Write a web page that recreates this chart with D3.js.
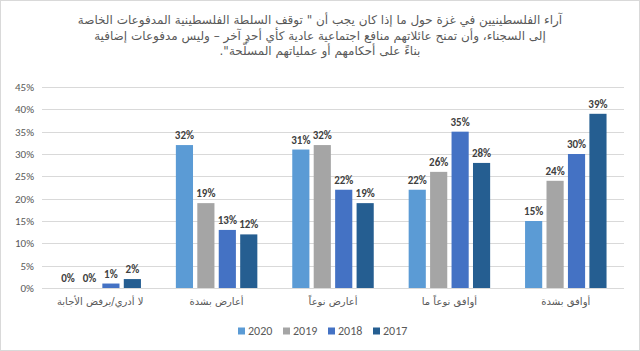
<!DOCTYPE html>
<html lang="ar">
<head>
<meta charset="UTF-8">
<title>chart</title>
<style>
  body { margin: 0; background: #fff; }
  svg { display: block; }
</style>
</head>
<body>
<script src="https://cdn.jsdelivr.net/npm/d3@7"></script>
<script>
var width = 640, height = 351;

var categories = ["لا أدري/يرفض الأجابة", "أعارض بشدة", "أعارض نوعاً", "أوافق نوعاً ما", "أوافق بشدة"];
var years = ["2020", "2019", "2018", "2017"];
var v2020 = [0, 32, 31, 22, 15];
var v2019 = [0, 19, 32, 26, 24];
var v2018 = [1, 13, 22, 35, 30];
var v2017 = [2, 12, 19, 28, 39];
var yTicks = [0, 5, 10, 15, 20, 25, 30, 35, 40, 45];
var colors = ["#5B9BD5", "#A5A5A5", "#4472C4", "#255E91"];
var titleLines = [
  'آراء الفلسطينيين في غزة حول ما إذا كان يجب أن " توقف السلطة الفلسطينية المدفوعات الخاصة',
  'إلى السجناء، وأن تمنح عائلاتهم منافع اجتماعية عادية كأي أحدٍ آخر – وليس مدفوعات إضافية',
  'بناءً على أحكامهم أو عملياتهم المسلّحة".'
];

var series = [v2020, v2019, v2018, v2017];
var rows = categories.map(function(c, i) {
  return { cat: c, vals: years.map(function(y, j) { return { year: y, j: j, v: series[j][i] }; }) };
});

var margin = { left: 42, right: 16, top: 87, bottom: 63 };

var svg = d3.select("body").append("svg")
  .attr("width", width).attr("height", height);

svg.append("rect")
  .attr("x", 0.5).attr("y", 0.5)
  .attr("width", width - 1).attr("height", height - 1)
  .attr("fill", "#fff").attr("stroke", "#d9d9d9");

var x0 = d3.scaleBand().domain(categories)
  .range([margin.left, width - margin.right])
  .paddingInner(0.3).paddingOuter(0.15);
var x1 = d3.scaleBand().domain(years)
  .range([0, x0.bandwidth()]).paddingInner(0.2);
var y = d3.scaleLinear().domain([0, 45])
  .range([height - margin.bottom, margin.top]);

// gridlines
svg.append("g")
  .selectAll("line").data(yTicks).enter().append("line")
  .attr("x1", margin.left).attr("x2", width - margin.right)
  .attr("y1", function(d) { return Math.round(y(d)) + 0.5; })
  .attr("y2", function(d) { return Math.round(y(d)) + 0.5; })
  .attr("stroke", "#d9d9d9").attr("stroke-width", 1);

// y axis labels
var yAxis = d3.axisLeft(y).tickValues(yTicks)
  .tickFormat(function(d) { return d + "%"; })
  .tickSize(0).tickPadding(8);
var ga = svg.append("g").attr("transform", "translate(" + margin.left + ",0)").call(yAxis);
ga.select(".domain").remove();
ga.selectAll("text")
  .attr("font-family", "Calibri, Carlito, 'Liberation Sans', Arial, sans-serif")
  .attr("font-size", 11).attr("fill", "#595959");

// bars
var groups = svg.append("g").selectAll("g").data(rows).enter().append("g")
  .attr("transform", function(d) { return "translate(" + x0(d.cat) + ",0)"; });

groups.selectAll("rect").data(function(d) { return d.vals; }).enter().append("rect")
  .attr("x", function(d) { return x1(d.year); })
  .attr("y", function(d) { return y(d.v); })
  .attr("width", x1.bandwidth())
  .attr("height", function(d) { return y(0) - y(d.v); })
  .attr("fill", function(d) { return colors[d.j]; });

groups.selectAll("text").data(function(d) { return d.vals; }).enter().append("text")
  .attr("x", function(d) { return x1(d.year) + x1.bandwidth() / 2; })
  .attr("y", function(d) { return y(d.v) - 6; })
  .attr("text-anchor", "middle")
  .attr("font-family", "Calibri, Carlito, 'Liberation Sans', Arial, sans-serif")
  .attr("font-weight", "bold")
  .attr("font-size", 11)
  .attr("fill", "#404040")
  .text(function(d) { return d.v + "%"; });

// category labels
var xAxis = d3.axisBottom(x0).tickSize(0).tickPadding(10);
var gx = svg.append("g").attr("transform", "translate(0," + y(0) + ")").call(xAxis);
gx.select(".domain").remove();
gx.selectAll("text")
  .attr("font-family", "'DejaVu Sans', sans-serif")
  .attr("font-size", 10).attr("fill", "#595959")
  .attr("direction", "rtl");

// title
svg.append("g").selectAll("text").data(titleLines).enter().append("text")
  .attr("x", width / 2)
  .attr("y", function(d, i) { return 24 + i * 15.5; })
  .attr("text-anchor", "middle")
  .attr("direction", "rtl")
  .attr("font-family", "'DejaVu Sans', sans-serif")
  .attr("font-size", 12)
  .attr("fill", "#595959")
  .text(function(d) { return d; });

// legend
var legX = 238, legStep = 45, legY = 331;
var leg = svg.append("g").selectAll("g").data(years).enter().append("g")
  .attr("transform", function(d, i) { return "translate(" + (legX + i * legStep) + "," + legY + ")"; });
leg.append("rect")
  .attr("x", 0).attr("y", -3.5).attr("width", 7).attr("height", 7)
  .attr("fill", function(d, i) { return colors[i]; });
leg.append("text")
  .attr("x", 10).attr("y", 4)
  .attr("font-family", "Calibri, Carlito, 'Liberation Sans', Arial, sans-serif")
  .attr("font-size", 12).attr("fill", "#595959")
  .text(function(d) { return d; });
</script>
</body>
</html>
